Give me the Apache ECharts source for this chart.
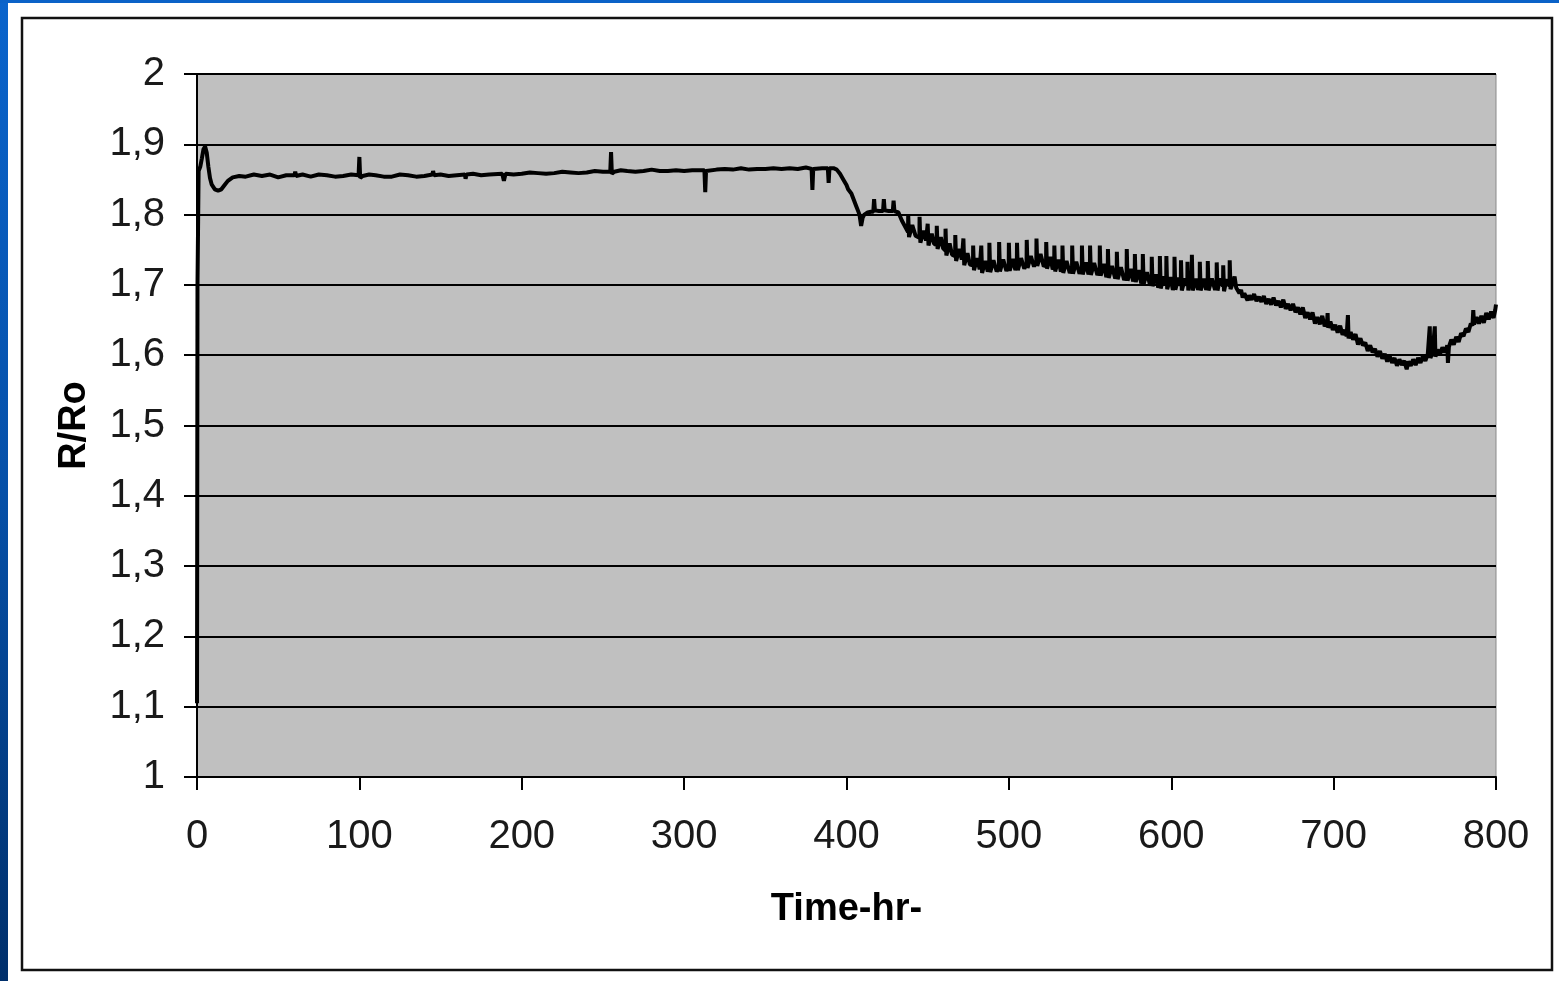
<!DOCTYPE html>
<html>
<head>
<meta charset="utf-8">
<script src="https://cdn.jsdelivr.net/npm/echarts@6/dist/echarts.min.js"></script>
<style>
html,body{margin:0;padding:0;background:#fff;}
#chart{width:1559px;height:981px;}
</style>
</head>
<body>
<div id="chart"></div>
<script>
// ---- data (time in hours, R/Ro) ----
var xTicks = [0, 100, 200, 300, 400, 500, 600, 700, 800];
var yTicks = [1, 1.1, 1.2, 1.3, 1.4, 1.5, 1.6, 1.7, 1.8, 1.9, 2];

var startup = [
  [0,1.105],[0.3,1.70],[1,1.862],[2,1.868],[3,1.88],[4,1.893],[5,1.897],[6,1.888],[7,1.868],
  [8,1.852],[9,1.843],[11,1.836],[13,1.834],[15,1.836],[17,1.842],[19,1.848],[22,1.853],[26,1.855]
];

var plateau = [
  [30,1.854],[35,1.857],[40,1.855],[45,1.857],[50,1.853],[55,1.856],[60,1.856],[60.5,1.861],[61,1.855],
  [65,1.857],[70,1.854],[75,1.857],[80,1.856],[85,1.854],[90,1.855],[95,1.857],[99.5,1.856],[100,1.882],
  [100.5,1.852],[102,1.855],[106,1.857],[110,1.856],[115,1.854],[120,1.854],[125,1.857],
  [130,1.856],[135,1.854],[140,1.855],[145,1.857],[145.4,1.862],[146,1.856],[150,1.857],[155,1.855],
  [160,1.856],[165,1.857],[165.4,1.851],[166,1.857],[170,1.858],[175,1.856],[180,1.857],[188,1.858],
  [189,1.848],[190,1.858],[195,1.857],[200,1.858],[205,1.860],[210,1.859],[215,1.858],[220,1.859],
  [225,1.861],[230,1.860],[235,1.859],[240,1.860],[245,1.862],[250,1.861],
  [254.5,1.861],[255,1.889],[255.5,1.858],[257,1.861],[261,1.863],[265,1.862],[270,1.861],[275,1.862],
  [280,1.864],[285,1.862],[290,1.862],[295,1.863],[300,1.862],[305,1.863],[312.5,1.863],[313,1.832],
  [313.5,1.862],[320,1.864],[325,1.865],[330,1.864],[335,1.866],[340,1.864],[345,1.865],[350,1.865],
  [355,1.866],[360,1.865],[365,1.866],[370,1.865],[375,1.867],[378.5,1.865],[379,1.835],[379.5,1.865],
  [385,1.866],[388.5,1.866],[389,1.845],[389.5,1.866],[392,1.866]
];

var firstDrop = [
  [394,1.864],[396,1.858],[398,1.850],[400,1.842],[401,1.836],[403,1.830],[404,1.824],
  [405,1.818],[406,1.812],[407,1.806],[408,1.800],[409,1.784],[410,1.796],[411,1.800],
  [413,1.803],[415,1.804],[416.5,1.804],[417,1.822],[417.5,1.806],[420,1.805],[422.5,1.805],
  [423,1.822],[423.5,1.806],[426,1.805],[428.5,1.805],[429,1.820],[429.5,1.805],[432,1.803],
  [434,1.792]
];

var spikyBand = [
  [437.9,1.775],[438,1.800],[438.5,1.768],[440.5,1.785],[442.5,1.770],
  [444.9,1.767],[445,1.797],[445.5,1.760],[447.5,1.777],[449,1.763],
  [449.9,1.763],[450,1.787],[450.5,1.756],[452.5,1.773],[454,1.758],
  [455.5,1.758],[455.6,1.784],[456.1,1.751],[458.1,1.768],[459.5,1.752],
  [460.9,1.749],[461,1.780],[461.5,1.742],[463.5,1.759],[465,1.743],
  [466.9,1.741],[467,1.771],[467.5,1.734],[469.5,1.751],[471,1.736],
  [471.9,1.735],[472,1.766],[472.5,1.728],[474.5,1.745],[476,1.729],
  [477.9,1.728],[478,1.756],[478.5,1.721],[480.5,1.738],[482,1.722],
  [482.9,1.724],[483,1.756],[483.5,1.717],[485.5,1.734],[487,1.719],
  [487.9,1.725],[488,1.760],[488.5,1.718],[490.5,1.735],[492.5,1.719],
  [493.9,1.726],[494,1.761],[494.5,1.719],[496.5,1.736],[498.5,1.720],
  [499.9,1.727],[500,1.760],[500.5,1.720],[502.5,1.737],[504,1.721],
  [504.9,1.728],[505,1.760],[505.5,1.721],[507.5,1.738],[509.5,1.723],
  [510.9,1.731],[511,1.764],[511.5,1.724],[513.5,1.741],[515.5,1.726],
  [516.9,1.734],[517,1.766],[517.5,1.727],[519.5,1.744],[521.5,1.726],
  [522.9,1.730],[523,1.761],[523.5,1.723],[525.5,1.740],[527,1.722],
  [527.9,1.726],[528,1.756],[528.5,1.719],[530.5,1.736],[532,1.719],
  [532.9,1.724],[533,1.756],[533.5,1.717],[535.5,1.734],[537.5,1.717],
  [538.9,1.723],[539,1.756],[539.5,1.716],[541.5,1.733],[543.5,1.716],
  [544.9,1.722],[545,1.756],[545.5,1.715],[547.5,1.732],[549,1.715],
  [549.9,1.721],[550,1.756],[550.5,1.714],[552.5,1.731],[554.5,1.714],
  [555.9,1.720],[556,1.756],[556.5,1.713],[558.5,1.730],[560,1.711],
  [560.9,1.717],[561,1.751],[561.5,1.710],[563.5,1.727],[565.5,1.709],
  [566.4,1.715],[566.5,1.747],[567,1.708],[569,1.725],[571,1.707],
  [572.5,1.713],[572.6,1.751],[573.1,1.706],[575.1,1.723],[576.5,1.705],
  [577.5,1.711],[577.6,1.744],[578.1,1.704],[580.1,1.721],[581.5,1.702],
  [582.4,1.708],[582.5,1.744],[583,1.701],[585,1.718],[587,1.699],
  [587.9,1.705],[588,1.740],[588.5,1.698],[590.5,1.715],[592,1.696],
  [592.9,1.702],[593,1.741],[593.5,1.695],[595.5,1.712],
  [596.9,1.701],[597,1.741],[597.5,1.694],[599.5,1.711],[601,1.693],
  [601.9,1.700],[602,1.740],[602.5,1.693],[604.5,1.710],
  [605.9,1.699],[606,1.735],[606.5,1.692],[608.5,1.709],
  [609.9,1.699],[610,1.733],[610.5,1.692],[611.5,1.709],
  [612.6,1.699],[612.7,1.743],[613.2,1.692],[615.2,1.709],[616.5,1.693],
  [617.5,1.699],[617.6,1.733],[618.1,1.692],[620.1,1.709],[621.5,1.693],
  [622.4,1.699],[622.5,1.734],[623,1.692],[625,1.709],[627,1.693],
  [627.9,1.699],[628,1.732],[628.5,1.692],[630,1.709],
  [631.9,1.698],[632,1.728],[632.5,1.691],[634,1.708],
  [635.9,1.698],[636,1.735],[636.5,1.694]
];

var valley = [
  [638,1.703],[639,1.712],[640,1.696],[641,1.694],[642,1.688],[643,1.693],[644,1.682],[645,1.688],
  [646,1.686],[647,1.678],[648,1.685],[649.5,1.679],[651,1.687],[652.5,1.677],[654,1.683],
  [655.5,1.676],[657,1.684],[658.5,1.673],[660,1.680],[661.5,1.672],[663,1.682],[664.5,1.671],
  [666,1.677],[667.5,1.668],[669,1.679],[670.5,1.666],[672,1.673],[673.5,1.664],[675,1.673],
  [676.5,1.661],[678,1.668],[679.5,1.658],[681,1.668],[682.5,1.653],[684,1.661],[685.5,1.651],
  [687,1.661],[688.5,1.645],[690,1.654],[691.5,1.644],[693,1.656],[694.5,1.641],[696,1.649],
  [696.3,1.660],[696.6,1.639],[698,1.648],[699.5,1.636],[701,1.643],[702.5,1.632],[704,1.642],
  [705.5,1.629],[707,1.636],[708,1.627],[708.8,1.657],[709.2,1.624],[710.5,1.633],[712,1.622],
  [713.5,1.630],[715,1.615],[716.5,1.624],[718,1.614],[719.5,1.618],[721,1.606],[722.5,1.614],
  [724,1.604],[725.5,1.609],[727,1.598],[728.5,1.606],[730,1.595],[731.5,1.602],[733,1.591],
  [734.5,1.599],[736,1.589],[737.5,1.596],[739,1.585],[740.5,1.594],[742,1.586],[743.5,1.592],
  [745,1.580],[746,1.591],[747.5,1.585],[749,1.594],[750.5,1.586],[752,1.596],[753.5,1.589],
  [755,1.599],[756.5,1.592],[758,1.602],[759.2,1.641],[759.6,1.596],[761,1.604],[762.3,1.641],
  [762.7,1.598],[764,1.608],[765.5,1.601],[767,1.611],[768.5,1.604],[770,1.614],[770.4,1.589],
  [771,1.612],[772.5,1.622],[774,1.615],[775.5,1.626],[777,1.619],[778.5,1.631],[780,1.627],
  [781.5,1.638],[783,1.633],[784.5,1.645],[785.5,1.642],[786,1.664],[786.5,1.644],[788,1.654],
  [789.5,1.645],[791,1.656],[792.5,1.646],[794,1.660],[795.5,1.651],[797,1.662],[798.5,1.653],
  [799.5,1.664],[800,1.672]
];

var seriesData = [].concat(startup, plateau, firstDrop, spikyBand, valley);

var labelFont = "'Liberation Sans', Arial, sans-serif";
var titleFont = "'Liberation Sans', Arial, sans-serif";

function fmtY(v) {
  var s = (Math.round(v * 10) / 10).toString();
  return s.replace('.', ',');
}

var chart = echarts.init(document.getElementById('chart'), null, {renderer: 'canvas'});

chart.setOption({
  animation: false,
  backgroundColor: '#ffffff',
  graphic: [
    {type: 'rect', shape: {x: 0, y: 0, width: 8, height: 981}, silent: true,
     style: {fill: new echarts.graphic.LinearGradient(0, 0, 0, 1, [
       {offset: 0, color: '#0a64cc'}, {offset: 0.5, color: '#0650a8'}, {offset: 1, color: '#002f6b'}])}},
    {type: 'rect', shape: {x: 0, y: 0, width: 1559, height: 3}, silent: true,
     style: {fill: '#0a62c8'}},
    {type: 'rect', shape: {x: 22, y: 18, width: 1530, height: 952}, silent: true,
     style: {fill: 'none', stroke: '#111', lineWidth: 2.5}}
  ],
  grid: {
    left: 197, right: 63, top: 74, bottom: 204,
    show: true, backgroundColor: '#c0c0c0', borderColor: '#8a8a8a', borderWidth: 1
  },
  xAxis: {
    type: 'value', min: 0, max: 800, interval: 100,
    name: 'Time-hr-', nameLocation: 'middle', nameGap: 114,
    nameTextStyle: {fontFamily: titleFont, fontWeight: 'bold', fontSize: 38, color: '#000'},
    axisLine: {show: true, onZero: false, lineStyle: {color: '#000', width: 2}},
    axisTick: {show: true, length: 13, lineStyle: {color: '#000', width: 2}},
    axisLabel: {show: true, margin: 40, fontFamily: labelFont, fontSize: 40, color: '#1a1a1a',
      formatter: function (v) { return xTicks.indexOf(v) >= 0 ? String(v) : ''; }},
    splitLine: {show: false}
  },
  yAxis: {
    type: 'value', min: 1, max: 2, interval: 0.1,
    name: 'R/Ro', nameLocation: 'middle', nameGap: 103, nameRotate: 90,
    nameTextStyle: {fontFamily: titleFont, fontWeight: 'bold', fontSize: 38, color: '#000'},
    axisLine: {show: true, onZero: false, lineStyle: {color: '#000', width: 2}},
    axisTick: {show: true, length: 13, lineStyle: {color: '#000', width: 2}},
    axisLabel: {show: true, margin: 32, fontFamily: labelFont, fontSize: 40, color: '#1a1a1a',
      formatter: function (v) { return fmtY(v); }},
    splitLine: {show: true, lineStyle: {color: '#000', width: 2}}
  },
  series: [{
    type: 'line',
    data: seriesData,
    showSymbol: false,
    symbol: 'none',
    clip: true,
    lineStyle: {color: '#000', width: 4},
    z: 5
  }]
});
</script>
</body>
</html>
